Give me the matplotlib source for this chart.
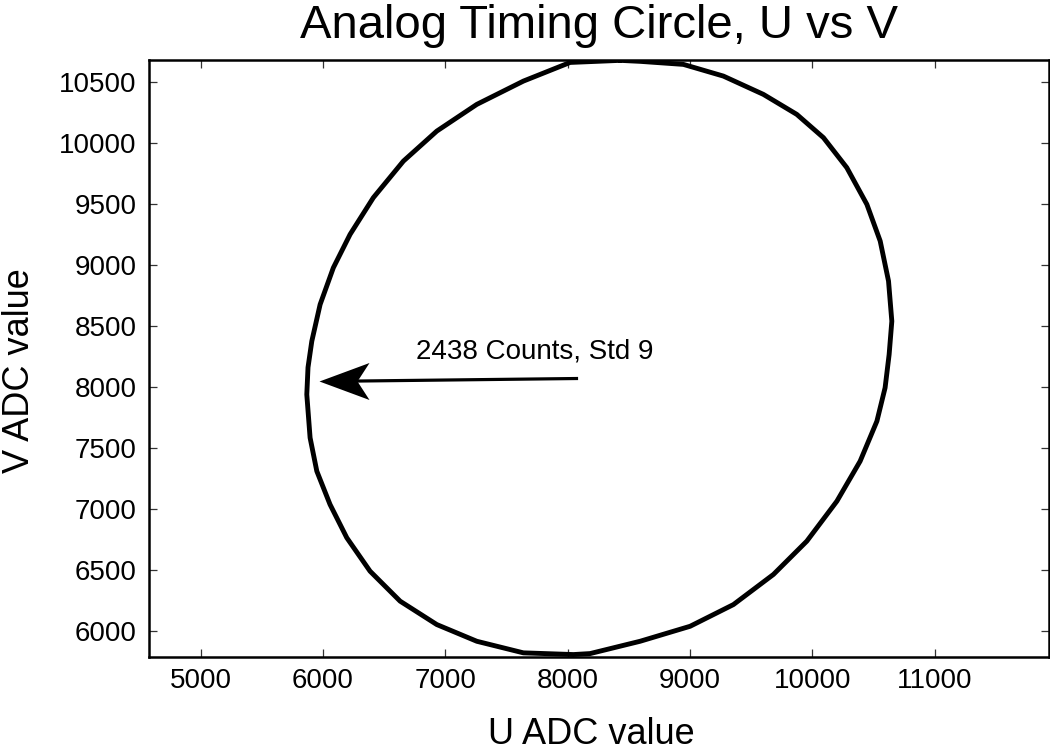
import numpy as np
import matplotlib
matplotlib.use("Agg")
import matplotlib.pyplot as plt
from matplotlib.path import Path

# ---- data (U, V in ADC units) ----
u_values = [8429, 8020, 7638, 7257, 6930, 6657, 6411, 6221, 6084, 5976,
            5908, 5877, 5867, 5894, 5949, 6057, 6194, 6384, 6630, 6930,
            7257, 7638, 8047, 8183, 8592, 9001, 9355, 9682, 9955, 10201,
            10391, 10528, 10595, 10628, 10650, 10623, 10555, 10446, 10282, 10091,
            9873, 9600, 9273, 8946, 8592]
v_values = [10680, 10663, 10510, 10319, 10100, 9854, 9554, 9253, 8979, 8678,
            8377, 8162, 7940, 7585, 7311, 7038, 6765, 6491, 6245, 6053,
            5916, 5821, 5807, 5815, 5916, 6039, 6217, 6464, 6737, 7065,
            7393, 7721, 7995, 8268, 8541, 8870, 9198, 9499, 9800, 10046,
            10237, 10401, 10551, 10647, 10672]

x_ticks = [5000, 6000, 7000, 8000, 9000, 10000, 11000]
y_ticks = [6000, 6500, 7000, 7500, 8000, 8500, 9000, 9500, 10000, 10500]
x_limits = (4577, 11935)
y_limits = (5787, 10683)

annotation_text = "2438 Counts, Std 9"
arrow_tail = (8085, 8071)
arrow_tip = (5967, 8047)
text_pos = (7734, 8293)

title_text = "Analog Timing Circle, U vs V"
x_label = "U ADC value"
y_label = "V ADC value"

plt.rcParams['font.family'] = ['Liberation Sans', 'DejaVu Sans']

fig = plt.figure(figsize=(10.5, 7.52), dpi=100)
ax = fig.add_axes([149 / 1050, 1 - 657 / 752, 900 / 1050, 597 / 752])

u_closed = np.append(u_values, u_values[0])
v_closed = np.append(v_values, v_values[0])
ax.plot(u_closed, v_closed, color='black', lw=3.5, solid_joinstyle='round',
        solid_capstyle='round', zorder=3, antialiased=True)

# arrow: shaft + notched head (marker with tip at origin)
head = Path([(0, 0), (1.0, 0.37), (0.76, 0), (1.0, -0.37), (0, 0)],
            [Path.MOVETO, Path.LINETO, Path.LINETO, Path.LINETO, Path.CLOSEPOLY])
ax.plot([arrow_tail[0], arrow_tip[0] + 300], [arrow_tail[1], arrow_tip[1] + 3],
        color='black', lw=2.3, solid_capstyle='butt', zorder=4)
ax.plot([arrow_tip[0]], [arrow_tip[1]], marker=head, ms=72, color='black',
        mew=0, zorder=5)

ax.text(text_pos[0], text_pos[1], annotation_text, fontsize=20, ha='center',
        va='center', color='black')

ax.set_xlim(*x_limits)
ax.set_ylim(*y_limits)
ax.set_xticks(x_ticks)
ax.set_yticks(y_ticks)
ax.set_xticklabels([str(t) for t in x_ticks])
ax.set_yticklabels([str(t) for t in y_ticks])

ax.tick_params(axis='both', which='major', direction='in', length=6, width=0.9,
               color='#333333', labelsize=20, top=True, right=True)
ax.tick_params(axis='x', pad=8)
ax.tick_params(axis='y', pad=9)
for s in ax.spines.values():
    s.set_linewidth(1.8)
    s.set_color('black')

ax.set_title(title_text, fontsize=34, pad=16)
ax.set_xlabel(x_label, fontsize=26)
ax.set_ylabel(y_label, fontsize=26)
ax.xaxis.set_label_coords(0.492, -0.100)
ax.yaxis.set_label_coords(-0.124, 0.48)

fig.savefig("out.png", dpi=100)
